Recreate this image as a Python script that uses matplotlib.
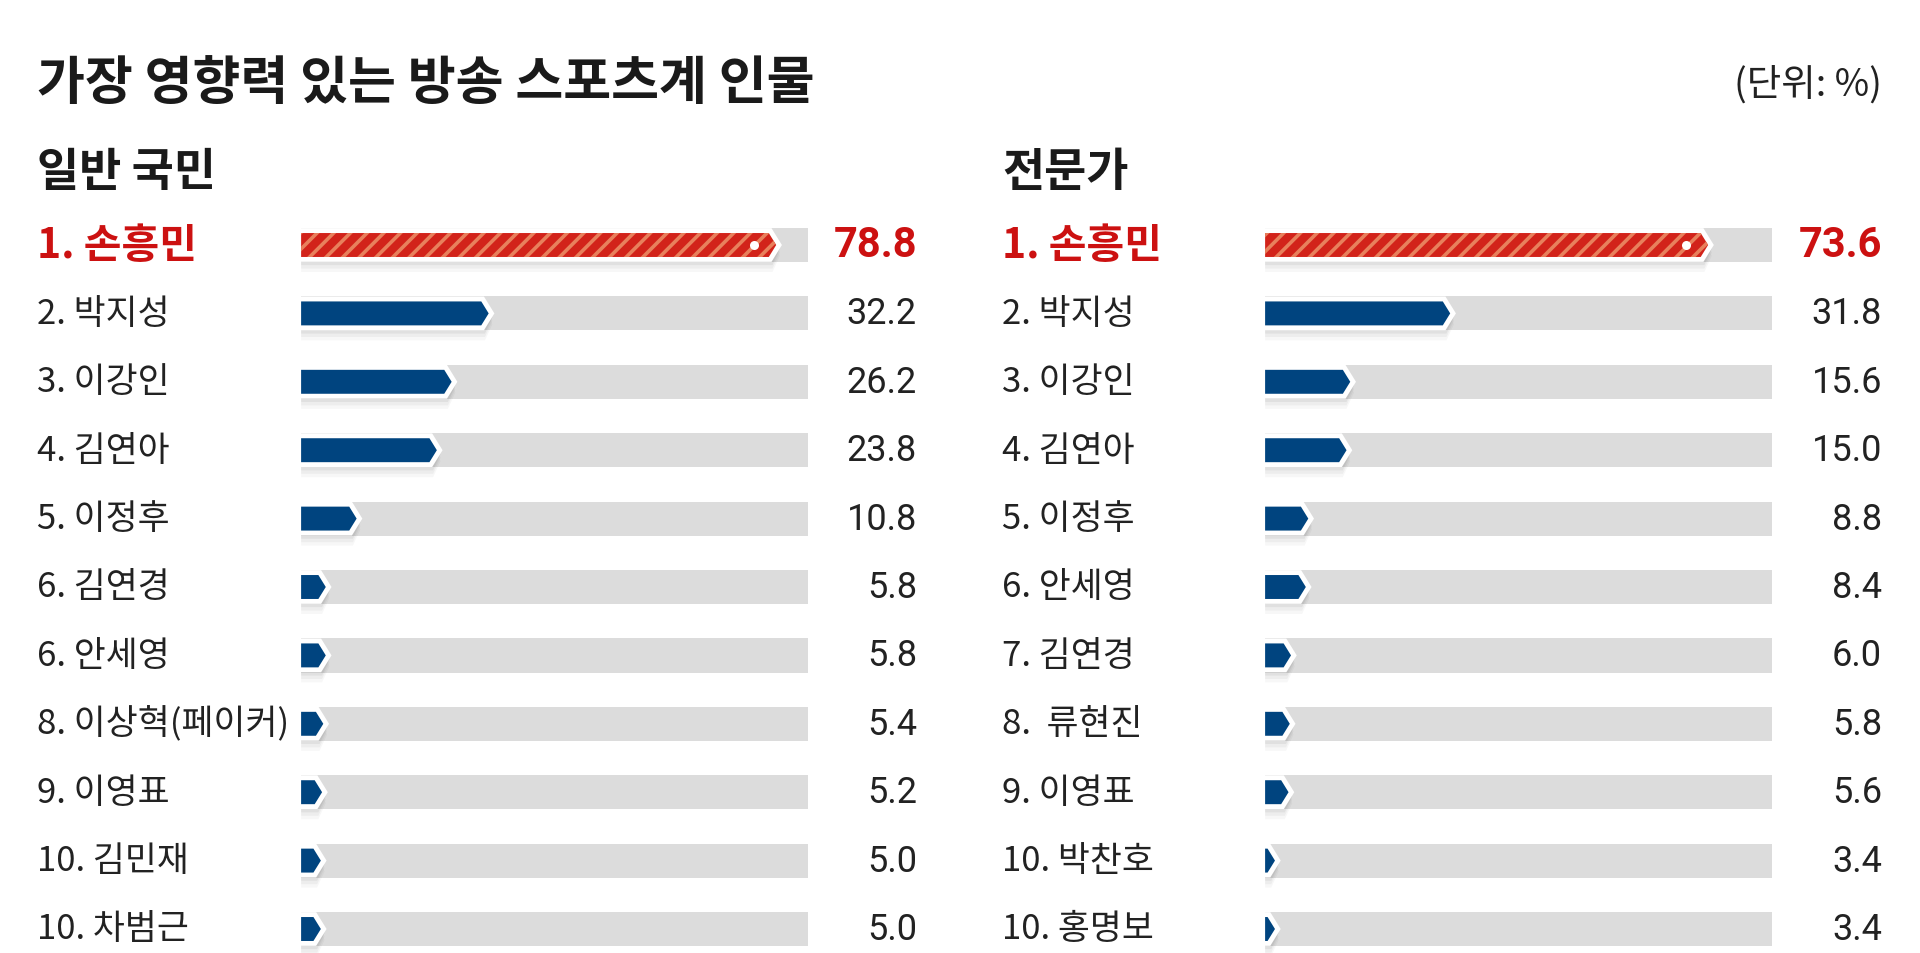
import numpy as np
import matplotlib
matplotlib.use("Agg")
import matplotlib.pyplot as plt
import matplotlib.transforms as mtransforms
from matplotlib.patches import Polygon, Rectangle

plt.rcParams['font.family'] = ['Noto Sans CJK KR', 'DejaVu Sans']
plt.rcParams['hatch.linewidth'] = 2.6

# --- data ---
title = "가장 영향력 있는 방송 스포츠계 인물"
unit_label = "(단위: %)"
left_title = "일반 국민"
right_title = "전문가"

left_names = ["1. 손흥민", "2. 박지성", "3. 이강인", "4. 김연아", "5. 이정후", "6. 김연경",
              "6. 안세영", "8. 이상혁(페이커)", "9. 이영표", "10. 김민재", "10. 차범근"]
left_values = [78.8, 32.2, 26.2, 23.8, 10.8, 5.8, 5.8, 5.4, 5.2, 5.0, 5.0]

right_names = ["1. 손흥민", "2. 박지성", "3. 이강인", "4. 김연아", "5. 이정후", "6. 안세영",
               "7. 김연경", "8.  류현진", "9. 이영표", "10. 박찬호", "10. 홍명보"]
right_values = [73.6, 31.8, 15.6, 15.0, 8.8, 8.4, 6.0, 5.8, 5.6, 3.4, 3.4]

# --- style ---
W, H = 1920, 954
RED = '#cc1111'
BAR_RED = '#d2231a'
STRIPE = '#e8805c'
BLUE = '#00447f'
GRAY = '#dcdcdc'
TEXT = '#222222'

XMAX = 84.0        # end of the gray track
BAR_X0 = 1.8       # where the coloured bars begin
TIP = 1.2          # chevron depth
GRAY_H = 0.50
BAR_H = 0.35
ROW0_PX = 246
PITCH_PX = 68.4


def chevron(x0, v, y, h, d):
    d = min(d, max(v - x0, 0.01))
    return [(x0, y - h / 2), (v - d, y - h / 2), (v, y), (v - d, y + h / 2), (x0, y + h / 2)]


def draw_panel(ax_left_px, names, values, label_px, value_px):
    top_px = ROW0_PX - PITCH_PX / 2
    ax = fig.add_axes([ax_left_px / W, 0, (XMAX * 6.17) / W, (H - top_px) / H])
    ax.set_xlim(0, XMAX)
    ax.set_ylim(-0.5 + H / PITCH_PX - top_px / PITCH_PX, -0.5)
    ax.axis('off')

    trans = mtransforms.blended_transform_factory(fig.transFigure, ax.transData)

    for i, (name, v) in enumerate(zip(names, values)):
        first = i == 0
        # track
        ax.add_patch(Rectangle((BAR_X0, i - GRAY_H / 2), XMAX - BAR_X0, GRAY_H,
                               facecolor=GRAY, edgecolor='none', zorder=1))
        # soft shadow
        for k, a in zip([0.06, 0.11, 0.16], [0.05, 0.04, 0.03]):
            pts = chevron(BAR_X0, v + 0.6, i + k, BAR_H + 0.12, TIP)
            ax.add_patch(Polygon(pts, closed=True, facecolor='black', alpha=a,
                                 edgecolor='none', zorder=2))
        pts = chevron(BAR_X0, v, i, BAR_H, TIP)
        # white outline
        ax.add_patch(Polygon(pts, closed=True, facecolor='white', edgecolor='white',
                             linewidth=7, joinstyle='miter', zorder=3))
        if first:
            ax.add_patch(Polygon(pts, closed=True, facecolor=BAR_RED, edgecolor=STRIPE,
                                 linewidth=0, hatch='//', zorder=4))
            ax.plot([v - 3.6], [i], marker='o', markersize=6.5, color='white',
                    markeredgewidth=0, zorder=5)
        else:
            ax.add_patch(Polygon(pts, closed=True, facecolor=BLUE, edgecolor='none',
                                 zorder=4))

        ax.text(label_px / W, i, name, transform=trans, ha='left', va='center',
                fontsize=29.5 if first else 25, fontweight='bold' if first else 'normal',
                color=RED if first else TEXT)
        ax.text(value_px / W, i, f"{v:.1f}", transform=trans, ha='right', va='center',
                fontsize=30 if first else 26, fontweight='bold' if first else 'normal',
                color=RED if first else TEXT, family=['Roboto', 'DejaVu Sans'])
    return ax


fig = plt.figure(figsize=(W / 100, H / 100), dpi=100)
fig.patch.set_facecolor('white')

fig.text(37 / W, 1 - 84 / H, title, ha='left', va='center', fontsize=37.5,
         fontweight='bold', color='#1a1a1a')
fig.text(1882 / W, 1 - 85 / H, unit_label, ha='right', va='center', fontsize=27,
         color=TEXT, fontweight='light')
fig.text(37 / W, 1 - 173 / H, left_title, ha='left', va='center', fontsize=33,
         fontweight='bold', color='#1a1a1a')
fig.text(1002 / W, 1 - 173 / H, right_title, ha='left', va='center', fontsize=33,
         fontweight='bold', color='#1a1a1a')

draw_panel(290, left_names, left_values, 37, 917)
draw_panel(1254, right_names, right_values, 1002, 1882)

fig.savefig('out.png', dpi=100, facecolor='white')
